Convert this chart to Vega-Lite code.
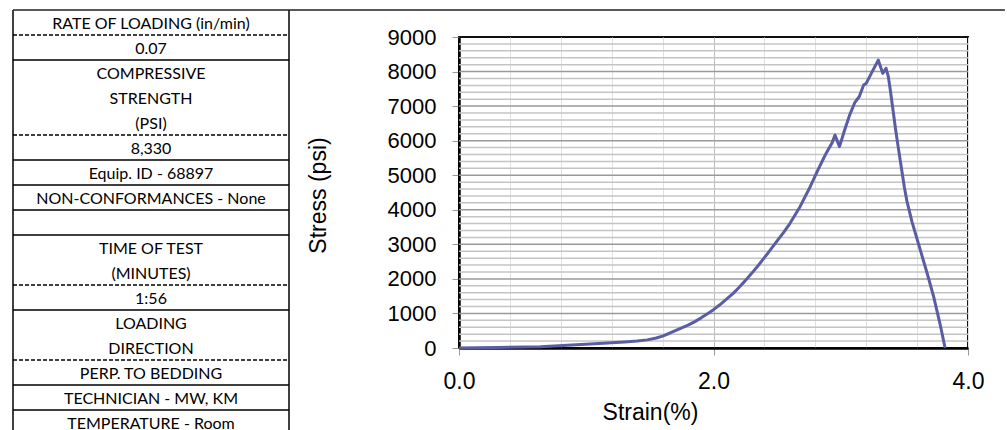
{
  "$schema": "https://vega.github.io/schema/vega-lite/v6.json",
  "padding": {"left": 12, "top": 9, "right": 0, "bottom": 0},
  "background": "white",
  "bounds": "flush",
  "spacing": 170,
  "config": {"font": "Liberation Sans"},
  "datasets": {
    "cells": [
      {"row": 1, "text": "RATE OF LOADING (in/min)"},
      {"row": 2, "text": "0.07"},
      {"row": 3, "text": "COMPRESSIVE"},
      {"row": 4, "text": "STRENGTH"},
      {"row": 5, "text": "(PSI)"},
      {"row": 6, "text": "8,330"},
      {"row": 7, "text": "Equip. ID - 68897"},
      {"row": 8, "text": "NON-CONFORMANCES - None"},
      {"row": 9, "text": ""},
      {"row": 10, "text": "TIME OF TEST"},
      {"row": 11, "text": "(MINUTES)"},
      {"row": 12, "text": "1:56"},
      {"row": 13, "text": "LOADING"},
      {"row": 14, "text": "DIRECTION"},
      {"row": 15, "text": "PERP. TO BEDDING"},
      {"row": 16, "text": "TECHNICIAN - MW, KM"},
      {"row": 17, "text": "TEMPERATURE - Room"}
    ],
    "separators": [
      {"edge": 1.5, "kind": "dashed"},
      {"edge": 2.5, "kind": "solid"},
      {"edge": 5.5, "kind": "dashed"},
      {"edge": 6.5, "kind": "solid"},
      {"edge": 7.5, "kind": "solid"},
      {"edge": 8.5, "kind": "solid"},
      {"edge": 9.5, "kind": "solid"},
      {"edge": 11.5, "kind": "dashed"},
      {"edge": 12.5, "kind": "solid"},
      {"edge": 14.5, "kind": "dashed"},
      {"edge": 15.5, "kind": "solid"},
      {"edge": 16.5, "kind": "solid"}
    ],
    "hgrid": [
      {"stress": 200, "major": "no"}, {"stress": 400, "major": "no"}, {"stress": 600, "major": "no"}, {"stress": 800, "major": "no"}, {"stress": 1000, "major": "yes"},
      {"stress": 1200, "major": "no"}, {"stress": 1400, "major": "no"}, {"stress": 1600, "major": "no"}, {"stress": 1800, "major": "no"}, {"stress": 2000, "major": "yes"},
      {"stress": 2200, "major": "no"}, {"stress": 2400, "major": "no"}, {"stress": 2600, "major": "no"}, {"stress": 2800, "major": "no"}, {"stress": 3000, "major": "yes"},
      {"stress": 3200, "major": "no"}, {"stress": 3400, "major": "no"}, {"stress": 3600, "major": "no"}, {"stress": 3800, "major": "no"}, {"stress": 4000, "major": "yes"},
      {"stress": 4200, "major": "no"}, {"stress": 4400, "major": "no"}, {"stress": 4600, "major": "no"}, {"stress": 4800, "major": "no"}, {"stress": 5000, "major": "yes"},
      {"stress": 5200, "major": "no"}, {"stress": 5400, "major": "no"}, {"stress": 5600, "major": "no"}, {"stress": 5800, "major": "no"}, {"stress": 6000, "major": "yes"},
      {"stress": 6200, "major": "no"}, {"stress": 6400, "major": "no"}, {"stress": 6600, "major": "no"}, {"stress": 6800, "major": "no"}, {"stress": 7000, "major": "yes"},
      {"stress": 7200, "major": "no"}, {"stress": 7400, "major": "no"}, {"stress": 7600, "major": "no"}, {"stress": 7800, "major": "no"}, {"stress": 8000, "major": "yes"},
      {"stress": 8200, "major": "no"}, {"stress": 8400, "major": "no"}, {"stress": 8600, "major": "no"}, {"stress": 8800, "major": "no"}
    ],
    "curve": [
      {"strain": 0, "stress": 0},
      {"strain": 0.3, "stress": 15},
      {"strain": 0.64, "stress": 38},
      {"strain": 1.03, "stress": 116},
      {"strain": 1.3, "stress": 172},
      {"strain": 1.4, "stress": 200},
      {"strain": 1.48, "stress": 235},
      {"strain": 1.55, "stress": 290},
      {"strain": 1.6, "stress": 345},
      {"strain": 1.65, "stress": 420},
      {"strain": 1.7, "stress": 500},
      {"strain": 1.75, "stress": 580},
      {"strain": 1.8, "stress": 660},
      {"strain": 1.85, "stress": 755},
      {"strain": 1.9, "stress": 865},
      {"strain": 1.95, "stress": 985},
      {"strain": 2.0, "stress": 1110},
      {"strain": 2.05, "stress": 1250},
      {"strain": 2.1, "stress": 1405},
      {"strain": 2.155, "stress": 1582},
      {"strain": 2.2, "stress": 1750},
      {"strain": 2.25, "stress": 1950},
      {"strain": 2.3, "stress": 2160},
      {"strain": 2.35, "stress": 2380},
      {"strain": 2.42, "stress": 2710},
      {"strain": 2.5, "stress": 3100},
      {"strain": 2.55, "stress": 3340},
      {"strain": 2.6, "stress": 3600},
      {"strain": 2.68, "stress": 4090},
      {"strain": 2.76, "stress": 4668},
      {"strain": 2.82, "stress": 5150},
      {"strain": 2.88, "stress": 5600},
      {"strain": 2.93, "stress": 5922},
      {"strain": 2.955, "stress": 6163},
      {"strain": 2.99, "stress": 5826},
      {"strain": 3.03, "stress": 6300},
      {"strain": 3.07, "stress": 6742},
      {"strain": 3.11, "stress": 7100},
      {"strain": 3.125, "stress": 7176},
      {"strain": 3.145, "stress": 7272},
      {"strain": 3.18, "stress": 7610},
      {"strain": 3.2, "stress": 7658},
      {"strain": 3.24, "stress": 7948},
      {"strain": 3.295, "stress": 8330},
      {"strain": 3.33, "stress": 7948},
      {"strain": 3.356, "stress": 8093},
      {"strain": 3.374, "stress": 7851},
      {"strain": 3.39, "stress": 7450},
      {"strain": 3.41, "stress": 6900},
      {"strain": 3.43, "stress": 6350},
      {"strain": 3.45, "stress": 5850},
      {"strain": 3.47, "stress": 5370},
      {"strain": 3.5, "stress": 4650},
      {"strain": 3.52, "stress": 4250},
      {"strain": 3.56, "stress": 3650},
      {"strain": 3.62, "stress": 2900},
      {"strain": 3.68, "stress": 2150},
      {"strain": 3.73, "stress": 1485},
      {"strain": 3.78, "stress": 700},
      {"strain": 3.82, "stress": 0}
    ]
  },
  "hconcat": [
    {
      "width": 276,
      "height": 311,
      "view": {"stroke": null},
      "layer": [
        {
          "data": {"name": "cells"},
          "mark": {"type": "text", "font": "Lato", "fontSize": 16, "color": "#000", "align": "center", "baseline": "middle", "dy": 1.5},
          "encoding": {
            "x": {"datum": 0.5, "type": "quantitative", "scale": {"domain": [0, 1], "nice": false, "zero": false}, "axis": null},
            "y": {"field": "row", "type": "quantitative", "scale": {"domain": [1.58, 14.02], "reverse": true, "nice": false, "zero": false}, "axis": null},
            "text": {"field": "text", "type": "nominal"}
          }
        },
        {
          "data": {"name": "separators"},
          "mark": {"type": "rule", "color": "#000", "strokeWidth": 1.4},
          "encoding": {
            "x": {"datum": 0, "type": "quantitative", "scale": {"domain": [0, 1], "nice": false, "zero": false}, "axis": null},
            "x2": {"datum": 1},
            "y": {"field": "edge", "type": "quantitative", "scale": {"domain": [1.58, 14.02], "reverse": true, "nice": false, "zero": false}, "axis": null},
            "strokeDash": {"field": "kind", "type": "nominal", "scale": {"domain": ["solid", "dashed"], "range": [[1, 0], [4, 2]]}, "legend": null}
          }
        },
        {
          "data": {"values": [{"side": 0}, {"side": 1}]},
          "mark": {"type": "rule", "color": "#000", "strokeWidth": 1.5},
          "encoding": {
            "x": {"field": "side", "type": "quantitative", "scale": {"domain": [0, 1], "nice": false, "zero": false}, "axis": null},
            "y": {"datum": 0.5, "type": "quantitative", "scale": {"domain": [1.58, 14.02], "reverse": true, "nice": false, "zero": false}, "axis": null},
            "y2": {"datum": 17.3}
          }
        },
        {
          "data": {"values": [{"edge": 0.5}]},
          "mark": {"type": "rule", "color": "#222", "strokeWidth": 1.5},
          "encoding": {
            "x": {"datum": 0, "type": "quantitative", "scale": {"domain": [0, 1], "nice": false, "zero": false}, "axis": null},
            "x2": {"datum": 3.594},
            "y": {"field": "edge", "type": "quantitative", "scale": {"domain": [1.58, 14.02], "reverse": true, "nice": false, "zero": false}, "axis": null}
          }
        }
      ]
    },
    {
      "width": 509,
      "height": 311,
      "view": {"stroke": "#111", "strokeWidth": 2},
      "encoding": {
        "y": {
          "field": "stress", "type": "quantitative",
          "scale": {"domain": [0, 9000], "nice": false, "zero": false},
          "axis": {
            "values": [0, 1000, 2000, 3000, 4000, 5000, 6000, 7000, 8000, 9000],
            "format": "d",
            "grid": false,
            "tickSize": 7,
            "tickColor": "#999",
            "labelFont": "Liberation Sans",
            "labelFontSize": 22,
            "labelColor": "#000",
            "labelPadding": 16,
            "labelOverlap": false,
            "labelFlush": false,
            "labelBound": false,
            "domainColor": "#000",
            "domainWidth": 2.5,
            "title": "Stress (psi)",
            "titleFont": "Liberation Sans",
            "titleFontSize": 23,
            "titleFontWeight": "normal",
            "titleColor": "#000",
            "titleX": -141,
            "titleY": 158,
            "titleAngle": -90,
            "titleAlign": "center",
            "titleBaseline": "middle"
          }
        }
      },
      "layer": [
        {
          "data": {"name": "hgrid"},
          "mark": {"type": "rule", "strokeWidth": 1.5},
          "encoding": {
            "x": {
              "datum": 0, "type": "quantitative",
              "scale": {"domain": [0, 4], "nice": false, "zero": false},
              "axis": {
                "values": [0, 0.4, 0.8, 1.2, 1.6, 2, 2.4, 2.8, 3.2, 3.6, 4],
                "format": ".1f",
                "labelExpr": "(datum.value === 0 || datum.value === 2 || datum.value === 4) ? datum.label : ''",
                "grid": true,
                "gridColor": {"condition": {"test": "datum.value === 2", "value": "#bdbdbd"}, "value": "#e0e0e0"},
                "gridWidth": 1,
                "tickSize": 7,
                "tickColor": "#999",
                "tickOpacity": {"condition": {"test": "datum.value === 0 || datum.value === 2 || datum.value === 4", "value": 1}, "value": 0},
                "labelFont": "Liberation Sans",
                "labelFontSize": 23,
                "labelColor": "#000",
                "labelPadding": 15,
                "labelOverlap": false,
                "labelFlush": false,
                "labelBound": false,
                "domainColor": "#000",
                "domainWidth": 2.5,
                "title": "Strain(%)",
                "titleFont": "Liberation Sans",
                "titleFontSize": 23,
                "titleFontWeight": "normal",
                "titleColor": "#000",
                "titleX": 191,
                "titleY": 64,
                "titleAlign": "center",
                "titleBaseline": "middle"
              }
            },
            "x2": {"datum": 4},
            "color": {"field": "major", "type": "nominal", "scale": {"domain": ["no", "yes"], "range": ["#c4c4c4", "#9a9a9a"]}, "legend": null}
          }
        },
        {
          "data": {"name": "curve"},
          "mark": {"type": "line", "color": "#5a5ca4", "strokeWidth": 3, "strokeJoin": "round"},
          "encoding": {
            "x": {
              "field": "strain", "type": "quantitative",
              "scale": {"domain": [0, 4], "nice": false, "zero": false},
              "axis": {
                "values": [0, 0.4, 0.8, 1.2, 1.6, 2, 2.4, 2.8, 3.2, 3.6, 4],
                "format": ".1f",
                "labelExpr": "(datum.value === 0 || datum.value === 2 || datum.value === 4) ? datum.label : ''",
                "grid": true,
                "gridColor": {"condition": {"test": "datum.value === 2", "value": "#bdbdbd"}, "value": "#e0e0e0"},
                "gridWidth": 1,
                "tickSize": 7,
                "tickColor": "#999",
                "tickOpacity": {"condition": {"test": "datum.value === 0 || datum.value === 2 || datum.value === 4", "value": 1}, "value": 0},
                "labelFont": "Liberation Sans",
                "labelFontSize": 23,
                "labelColor": "#000",
                "labelPadding": 15,
                "labelOverlap": false,
                "labelFlush": false,
                "labelBound": false,
                "domainColor": "#000",
                "domainWidth": 2.5,
                "title": "Strain(%)",
                "titleFont": "Liberation Sans",
                "titleFontSize": 23,
                "titleFontWeight": "normal",
                "titleColor": "#000",
                "titleX": 191,
                "titleY": 64,
                "titleAlign": "center",
                "titleBaseline": "middle"
              }
            }
          }
        }
      ]
    }
  ]
}
